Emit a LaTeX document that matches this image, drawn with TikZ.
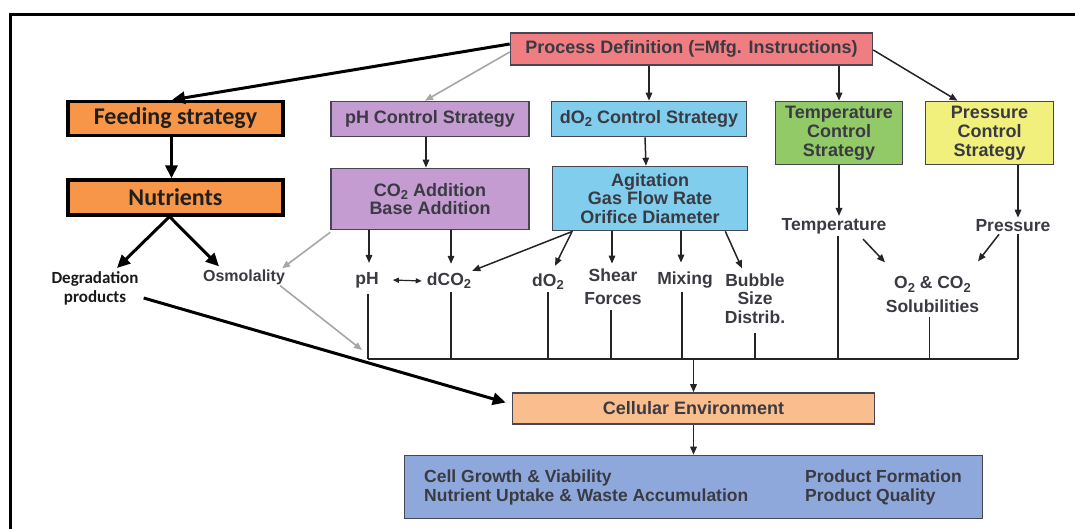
\documentclass[tikz,border=0pt]{standalone}
\usepackage{fontspec}
\setmainfont{Liberation Sans}
\newfontfamily\calfont{Carlito}
\usetikzlibrary{arrows.meta}
\definecolor{pdpink}{RGB}{240,125,130}
\definecolor{orng}{RGB}{247,150,72}
\definecolor{purp}{RGB}{196,156,210}
\definecolor{lblue}{RGB}{128,205,238}
\definecolor{grn}{RGB}{146,202,104}
\definecolor{yel}{RGB}{242,240,124}
\definecolor{peach}{RGB}{250,190,142}
\definecolor{bblue}{RGB}{142,168,220}
\definecolor{txt}{RGB}{58,58,66}
\definecolor{boxln}{RGB}{70,70,82}
\definecolor{lncol}{RGB}{35,35,40}
\newcommand\subs[1]{\raisebox{-0.35ex}{\fontsize{13}{13}\selectfont #1}}
\begin{document}
\begin{tikzpicture}[x=1pt,y=-1pt,
  box/.style={draw=boxln, line width=1.6pt, align=center, inner sep=0pt, text=txt,
    font=\fontsize{18}{18.8}\selectfont\bfseries},
  obox/.style={draw=black, line width=3.2pt, fill=orng, inner sep=0pt, text=black!88,
    font=\calfont\fontsize{24}{26}\selectfont\bfseries},
  lbl/.style={align=center, inner sep=1pt, text=txt, font=\fontsize{17.5}{18.5}\selectfont\bfseries},
  dlbl/.style={align=center, inner sep=1pt, text=black!90, font=\calfont\fontsize{17}{19}\selectfont\bfseries},
  arr/.style={draw=lncol, line width=1.5pt, -{Triangle[length=8pt,width=6.5pt]}},
  garr/.style={draw=gray!70, line width=1.6pt, -{Triangle[length=8pt,width=6.5pt]}},
  tarr/.style={draw=black, line width=3pt, -{Triangle[length=13pt,width=12pt]}},
  bus/.style={draw=lncol, line width=1.5pt}]
\path[use as bounding box] (0,0) rectangle (1075,528);
\draw[line width=3.5pt] (10.5,530) -- (10.5,14.5) -- (1077,14.5);

% boxes
\node[box, fill=pdpink, minimum width=362pt, minimum height=32pt] (pd) at (691.5,49) {Process Definition (=Mfg. Instructions)};
\node[obox, minimum width=215pt, minimum height=34pt] (fs) at (175.5,118.5) {Feeding strategy};
\node[obox, minimum width=215pt, minimum height=35pt] (nu) at (175.5,197.5) {Nutrients};
\node[box, fill=purp, minimum width=198pt, minimum height=35pt] (ph) at (430,119) {pH Control Strategy};
\node[box, fill=lblue, minimum width=195pt, minimum height=35pt] (do) at (649,119) {dO\subs{2} Control Strategy};
\node[box, fill=grn, minimum width=127pt, minimum height=63pt] (tc) at (839,133) {Temperature\\Control\\Strategy};
\node[box, fill=yel, minimum width=128pt, minimum height=63pt] (pc) at (989.5,133) {Pressure\\Control\\Strategy};
\node[box, fill=purp, minimum width=198pt, minimum height=61pt] (co) at (430,199) {CO\subs{2} Addition\\Base Addition};
\node[box, fill=lblue, minimum width=195pt, minimum height=64pt] (ag) at (650,198.5) {Agitation\\Gas Flow Rate\\Orifice Diameter};
\node[box, fill=peach, minimum width=362pt, minimum height=31pt] (ce) at (693.5,408.5) {Cellular Environment};
\node[box, fill=bblue, minimum width=578pt, minimum height=63pt] (res) at (693.5,487) {};
\node[lbl, anchor=west, align=left] (resL) at (423,487.5) {Cell Growth \& Viability\\Nutrient Uptake \& Waste Accumulation};
\node[lbl, anchor=west, align=left] (resR) at (804,487.5) {Product Formation\\Product Quality};

% labels
\node[lbl] (temp) at (834,226) {Temperature};
\node[lbl] (pres) at (1013,226) {Pressure};
\node[dlbl] (deg) at (95,288) {Degradation\\products};
\node[lbl, font=\fontsize{16}{17}\selectfont\bfseries] (osm) at (244,277) {Osmolality};
\node[lbl] (phl) at (367,280) {pH};
\node[lbl] (dco) at (449,281) {dCO\subs{2}};
\node[lbl] (dol) at (548,282) {dO\subs{2}};
\node[lbl] (sh) at (613,286.5) {Shear\\[4pt]Forces};
\node[lbl] (mx) at (685,280) {Mixing};
\node[lbl] (bb) at (755,298.5) {Bubble\\Size\\Distrib.};
\node[lbl] (o2) at (932.5,294.5) {O\subs{2} \& CO\subs{2}\\[5pt]Solubilities};

% top arrows
\draw[tarr] ([yshift=5pt]pd.west) -- ([xshift=-3.5pt]fs.north);
\draw[garr] ([yshift=-3pt]pd.west) -- ([xshift=-5pt]ph.north);
\draw[arr] (pd.south -| do.north) -- (do.north);
\draw[arr] (pd.south -| tc.north) -- (tc.north);
\draw[arr] ([yshift=-1pt]pd.east) -- ([xshift=-32pt]pc.north);

% left branch
\draw[tarr] ([xshift=-4pt]fs.south) -- ([xshift=-4pt]nu.north);
\draw[tarr] ([xshift=-6pt]nu.south) -- ([xshift=22pt,yshift=2pt]deg.north);
\draw[tarr] ([xshift=-6pt]nu.south) -- ([xshift=-25pt,yshift=2pt]osm.north);
\draw[tarr] ([xshift=4pt,yshift=-10pt]deg.east) -- ([xshift=-6pt,yshift=6pt]ce.west);

% pH branch
\draw[arr] ([xshift=-4pt]ph.south) -- ([xshift=-4pt]co.north);
\coordinate (phTop) at ([xshift=2pt,yshift=8pt]phl.north);
\coordinate (dcoTop) at ([xshift=2pt,yshift=8pt]dco.north);
\draw[arr] (phTop |- co.south) -- (phTop);
\draw[arr] (dcoTop |- co.south) -- (dcoTop);
\draw[garr] ([yshift=-2pt]co.south west) -- ([xshift=-4pt]osm.north east);
\draw[lncol, line width=1.2pt, {Triangle[length=6pt,width=5pt]}-{Triangle[length=6pt,width=5pt]}] ([xshift=13pt]phl.east) -- ([xshift=-4pt]dco.west);

% dO2 branch
\draw[arr] ([xshift=-4pt]do.south) -- ([xshift=-4pt]ag.north);
\draw[arr] ([xshift=21pt]ag.south west) -- ([yshift=1pt]dco.north east);
\draw[arr] ([xshift=20pt,yshift=-1pt]ag.south west) -- ([xshift=7pt,yshift=7pt]dol.north);
\coordinate (shTop) at ([xshift=-1pt,yshift=4pt]sh.north);
\coordinate (mxTop) at ([xshift=-4pt,yshift=8pt]mx.north);
\draw[arr] (shTop |- ag.south) -- (shTop);
\draw[arr] (mxTop |- ag.south) -- (mxTop);
\draw[arr] ([xshift=-23pt]ag.south east) -- ([xshift=-13pt,yshift=4pt]bb.north);

% temperature / pressure
\coordinate (tTop) at ([yshift=1pt]tc.south |- temp.north);
\coordinate (pTop) at ([xshift=28.5pt]pc.south |- pres.north);
\draw[arr] (tc.south) -- (tTop);
\draw[arr] ([xshift=28.5pt]pc.south) -- ([xshift=28.5pt,yshift=1pt]pc.south |- pres.north);
\draw[arr] ([xshift=29pt,yshift=-4pt]temp.south) -- ([xshift=-47.5pt,yshift=13pt]o2.north);
\draw[arr] ([xshift=-14pt,yshift=-1pt]pres.south) -- ([xshift=45.5pt,yshift=14pt]o2.north);

% bus
\coordinate (busL) at (368,359);
\coordinate (busR) at (1018,359);
\draw[bus] (busL) -- (busR);
\draw[bus] ([xshift=1pt,yshift=-5pt]phl.south) -- ([xshift=1pt]phl.south |- busL);
\draw[bus] ([xshift=2pt,yshift=-2pt]dco.south) -- ([xshift=2pt]dco.south |- busL);
\draw[bus] ([yshift=-1pt]dol.south) -- (dol.south |- busL);
\draw[bus] ([xshift=-2pt,yshift=-5pt]sh.south) -- ([xshift=-2pt]sh.south |- busL);
\draw[bus] ([xshift=-3pt,yshift=-3pt]mx.south) -- ([xshift=-3pt]mx.south |- busL);
\draw[bus] ([yshift=-8pt]bb.south) -- (bb.south |- busL);
\draw[bus] ([xshift=4pt,yshift=-1pt]temp.south) -- ([xshift=4pt]temp.south |- busL);
\draw[bus] ([xshift=-3pt,yshift=-3pt]o2.south) -- ([xshift=-3pt]o2.south |- busL);
\draw[bus] ([xshift=5pt,yshift=-1pt]pres.south) -- (busR);
\draw[garr] ([xshift=-6pt]osm.south east) -- ([xshift=-6pt,yshift=9pt]busL);

% bottom
\draw[arr] (ce.north |- busL) -- (ce.north);
\draw[arr] (ce.south) -- (res.north);
\end{tikzpicture}
\end{document}
